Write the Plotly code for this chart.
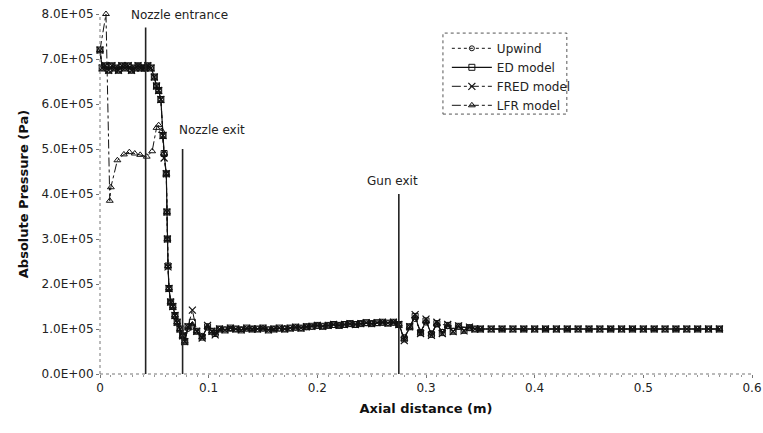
import plotly.graph_objects as go

# ---------------- data ----------------
x_main = [0, 0.002, 0.005, 0.008, 0.011, 0.014, 0.017, 0.020, 0.023, 0.026,
          0.029, 0.032, 0.035, 0.038, 0.041, 0.044, 0.047, 0.050, 0.052, 0.054,
          0.056, 0.058, 0.059, 0.061, 0.0616, 0.062, 0.0626, 0.0635, 0.065, 0.067,
          0.069, 0.071, 0.0736, 0.076, 0.078, 0.081, 0.085, 0.089, 0.094, 0.099,
          0.103, 0.106, 0.110, 0.115, 0.120, 0.125, 0.130, 0.135, 0.140, 0.145,
          0.150, 0.155, 0.160, 0.165, 0.170, 0.175, 0.180, 0.185, 0.190, 0.195,
          0.200, 0.205, 0.210, 0.215, 0.220, 0.225, 0.230, 0.235, 0.240, 0.245,
          0.250, 0.255, 0.260, 0.265, 0.270, 0.275, 0.280, 0.285, 0.290, 0.295,
          0.300, 0.305, 0.310, 0.315, 0.320, 0.325, 0.330, 0.335, 0.340, 0.345,
          0.350, 0.360, 0.370, 0.380, 0.390, 0.400, 0.410, 0.420, 0.430, 0.440,
          0.450, 0.460, 0.470, 0.480, 0.490, 0.500, 0.510, 0.520, 0.530, 0.540,
          0.550, 0.560, 0.570]

# values in units of 1e5 Pa
upwind = [7.20, 6.80, 6.85, 6.75, 6.85, 6.80, 6.75, 6.85, 6.80, 6.85,
          6.75, 6.80, 6.85, 6.80, 6.80, 6.85, 6.80, 6.60, 6.40, 6.30,
          6.10, 5.30, 4.90, 4.45, 3.60, 3.00, 2.40, 1.90, 1.60, 1.50,
          1.30, 1.15, 1.00, 0.85, 0.74, 1.00, 1.05, 0.95, 0.85, 1.03,
          0.96, 0.92, 1.00, 0.99, 1.01, 1.00, 0.99, 1.01, 1.00, 1.00,
          1.01, 0.99, 1.00, 1.01, 1.00, 1.02, 1.03, 1.02, 1.04, 1.05,
          1.07, 1.06, 1.08, 1.09, 1.08, 1.10, 1.11, 1.10, 1.12, 1.13,
          1.12, 1.13, 1.14, 1.13, 1.14, 1.10, 0.82, 1.04, 1.22, 0.94,
          1.14, 0.91, 1.10, 0.94, 1.06, 0.96, 1.05, 0.98, 1.02, 1.00,
          1.00, 1.00, 1.00, 1.00, 1.00, 1.00, 1.00, 1.00, 1.00, 1.00,
          1.00, 1.00, 1.00, 1.00, 1.00, 1.00, 1.00, 1.00, 1.00, 1.00,
          1.00, 1.00, 1.00]

ed = [7.20, 6.80, 6.85, 6.75, 6.85, 6.80, 6.75, 6.85, 6.80, 6.85,
      6.75, 6.80, 6.85, 6.80, 6.80, 6.85, 6.80, 6.60, 6.40, 6.30,
      6.10, 5.30, 4.90, 4.45, 3.60, 3.00, 2.40, 1.90, 1.60, 1.50,
      1.30, 1.15, 1.00, 0.85, 0.72, 1.05, 1.15, 0.95, 0.82, 1.05,
      0.95, 0.90, 1.00, 0.98, 1.02, 1.00, 0.98, 1.02, 1.00, 1.00,
      1.02, 0.98, 1.00, 1.02, 1.00, 1.02, 1.04, 1.02, 1.05, 1.06,
      1.08, 1.06, 1.08, 1.10, 1.08, 1.10, 1.12, 1.10, 1.12, 1.14,
      1.12, 1.14, 1.15, 1.13, 1.15, 1.10, 0.78, 1.05, 1.28, 0.92,
      1.18, 0.88, 1.12, 0.92, 1.08, 0.95, 1.06, 0.97, 1.03, 1.00,
      1.00, 1.00, 1.00, 1.00, 1.00, 1.00, 1.00, 1.00, 1.00, 1.00,
      1.00, 1.00, 1.00, 1.00, 1.00, 1.00, 1.00, 1.00, 1.00, 1.00,
      1.00, 1.00, 1.00]

fred = [7.20, 6.80, 6.85, 6.75, 6.85, 6.80, 6.75, 6.85, 6.80, 6.85,
        6.75, 6.80, 6.85, 6.80, 6.80, 6.85, 6.80, 6.60, 6.40, 6.30,
        6.10, 5.30, 4.80, 4.45, 3.60, 3.00, 2.38, 1.90, 1.60, 1.50,
        1.30, 1.15, 1.00, 0.85, 0.72, 1.05, 1.42, 0.95, 0.80, 1.08,
        0.95, 0.87, 1.00, 0.98, 1.02, 1.00, 0.98, 1.02, 1.00, 1.00,
        1.02, 0.98, 1.00, 1.02, 1.00, 1.02, 1.04, 1.02, 1.05, 1.06,
        1.08, 1.06, 1.08, 1.10, 1.08, 1.10, 1.12, 1.10, 1.12, 1.14,
        1.12, 1.14, 1.15, 1.13, 1.15, 1.10, 0.74, 1.05, 1.32, 0.90,
        1.22, 0.86, 1.15, 0.90, 1.10, 0.94, 1.07, 0.96, 1.04, 1.00,
        1.00, 1.00, 1.00, 1.00, 1.00, 1.00, 1.00, 1.00, 1.00, 1.00,
        1.00, 1.00, 1.00, 1.00, 1.00, 1.00, 1.00, 1.00, 1.00, 1.00,
        1.00, 1.00, 1.00]

x_lfr = [0, 0.0055, 0.009, 0.010, 0.016, 0.022, 0.027, 0.032, 0.037, 0.043,
         0.048, 0.052, 0.054, 0.057, 0.059, 0.061, 0.0616, 0.062, 0.0626, 0.0635,
         0.065, 0.067, 0.069, 0.071, 0.0736, 0.076, 0.078, 0.081, 0.085, 0.089,
         0.094, 0.099, 0.103, 0.106, 0.110, 0.120, 0.130, 0.140, 0.150, 0.160,
         0.170, 0.180, 0.190, 0.200, 0.210, 0.220, 0.230, 0.240, 0.250, 0.260,
         0.270, 0.275, 0.280, 0.285, 0.290, 0.295, 0.300, 0.305, 0.310, 0.320,
         0.330, 0.340, 0.350, 0.370, 0.390, 0.410, 0.430, 0.450, 0.470, 0.490,
         0.510, 0.530, 0.550, 0.570]

lfr = [7.20, 8.00, 3.85, 4.15, 4.75, 4.88, 4.93, 4.90, 4.87, 4.83,
       4.95, 5.47, 5.53, 5.40, 4.90, 4.45, 3.60, 3.00, 2.40, 1.90,
       1.60, 1.50, 1.30, 1.15, 1.00, 0.85, 0.72, 1.05, 1.10, 0.95,
       0.82, 1.05, 0.95, 0.90, 1.00, 1.00, 0.98, 1.00, 1.02, 1.00,
       1.02, 1.04, 1.05, 1.08, 1.08, 1.08, 1.12, 1.12, 1.12, 1.15,
       1.15, 1.10, 0.78, 1.05, 1.28, 0.92, 1.18, 0.88, 1.12, 1.08,
       1.06, 1.03, 1.00, 1.00, 1.00, 1.00, 1.00, 1.00, 1.00, 1.00,
       1.00, 1.00, 1.00, 1.00]

series_names = ["Upwind", "ED model", "FRED model", "LFR model"]

ref_x = [0.042, 0.076, 0.275]
ref_top = [7.7e5, 5.0e5, 4.0e5]
ref_labels = ["Nozzle entrance", "Nozzle exit", "Gun exit"]
ref_label_x = [0.0735, 0.103, 0.269]
ref_label_y = [7.97e5, 5.42e5, 4.3e5]

y_tick_vals = [0, 1e5, 2e5, 3e5, 4e5, 5e5, 6e5, 7e5, 8e5]
y_tick_text = ["0.0E+00", "1.0E+05", "2.0E+05", "3.0E+05", "4.0E+05",
               "5.0E+05", "6.0E+05", "7.0E+05", "8.0E+05"]
x_tick_vals = [0, 0.1, 0.2, 0.3, 0.4, 0.5, 0.6]
x_tick_text = ["0", "0.1", "0.2", "0.3", "0.4", "0.5", "0.6"]

assert len(x_main) == len(upwind) == len(ed) == len(fred)
assert len(x_lfr) == len(lfr)

FONT = "DejaVu Sans"
BLACK = "#111111"

fig = go.Figure()

def scale(v):
    return [a * 1e5 for a in v]

fig.add_trace(go.Scatter(
    x=x_main, y=scale(upwind), name=series_names[0], mode="lines+markers",
    line=dict(color=BLACK, width=1, dash="dot"),
    marker=dict(symbol="circle-open", size=5, color=BLACK, line=dict(width=1, color=BLACK)),
    cliponaxis=False))
fig.add_trace(go.Scatter(
    x=x_main, y=scale(ed), name=series_names[1], mode="lines+markers",
    line=dict(color=BLACK, width=1.2),
    marker=dict(symbol="square-open", size=6, color=BLACK, line=dict(width=1, color=BLACK)),
    cliponaxis=False))
fig.add_trace(go.Scatter(
    x=x_main, y=scale(fred), name=series_names[2], mode="lines+markers",
    line=dict(color=BLACK, width=1, dash="dashdot"),
    marker=dict(symbol="x-thin-open", size=7, color=BLACK, line=dict(width=1.2, color=BLACK)),
    cliponaxis=False))
fig.add_trace(go.Scatter(
    x=x_lfr, y=scale(lfr), name=series_names[3], mode="lines+markers",
    line=dict(color=BLACK, width=1, dash="dashdot"),
    marker=dict(symbol="triangle-up-open", size=6, color=BLACK, line=dict(width=1, color=BLACK)),
    cliponaxis=False))

shapes = []
for xv, top in zip(ref_x, ref_top):
    shapes.append(dict(type="line", xref="x", yref="y", x0=xv, x1=xv, y0=0, y1=top,
                       line=dict(color="#222222", width=1.6)))
# dotted axis lines
shapes.append(dict(type="line", xref="paper", yref="paper", x0=0, x1=1, y0=0, y1=0,
                   line=dict(color="#777777", width=1, dash="dot")))
shapes.append(dict(type="line", xref="paper", yref="paper", x0=0, x1=0, y0=0, y1=1,
                   line=dict(color="#777777", width=1, dash="dot")))
# legend frame
shapes.append(dict(type="rect", xref="paper", yref="paper", x0=0.526, x1=0.716, y0=0.722, y1=0.947,
                   line=dict(color="#555555", width=1, dash="dot"), fillcolor="rgba(0,0,0,0)"))

annotations = []
for lx, ly, txt in zip(ref_label_x, ref_label_y, ref_labels):
    annotations.append(dict(x=lx, y=ly, xref="x", yref="y", text=txt, showarrow=False,
                            font=dict(family=FONT, size=12, color="#222222")))

fig.update_layout(
    width=763, height=433,
    margin=dict(l=100, r=11, t=14, b=59, autoexpand=False),
    paper_bgcolor="white", plot_bgcolor="white",
    font=dict(family=FONT, size=12, color="#222222"),
    shapes=shapes, annotations=annotations,
    showlegend=True,
    legend=dict(x=0.532, y=0.945, xanchor="left", yanchor="top",
                bgcolor="rgba(255,255,255,0)", borderwidth=0,
                font=dict(family=FONT, size=12, color="#222222"),
                tracegroupgap=0, itemwidth=40),
    xaxis=dict(range=[0, 0.6], tickvals=x_tick_vals, ticktext=x_tick_text,
               automargin=False,
               showgrid=False, zeroline=False, showline=False,
               ticks="outside", ticklen=3, tickcolor="#777777",
               minor=dict(dtick=0.01, ticks="outside", ticklen=2, tickcolor="#999999"),
               tickfont=dict(family=FONT, size=12),
               title=dict(text="Axial distance (m)", standoff=9,
                          font=dict(family=FONT, size=13, color="#111111", weight="bold"))),
    yaxis=dict(range=[0, 8e5], tickvals=y_tick_vals, ticktext=y_tick_text,
               automargin=False,
               showgrid=False, zeroline=False, showline=False,
               ticks="outside", ticklen=3, tickcolor="#777777",
               tickfont=dict(family=FONT, size=12),
               title=dict(text="Absolute Pressure (Pa)", standoff=10,
                          font=dict(family=FONT, size=13, color="#111111", weight="bold"))),
)

fig.write_html("out.html")
